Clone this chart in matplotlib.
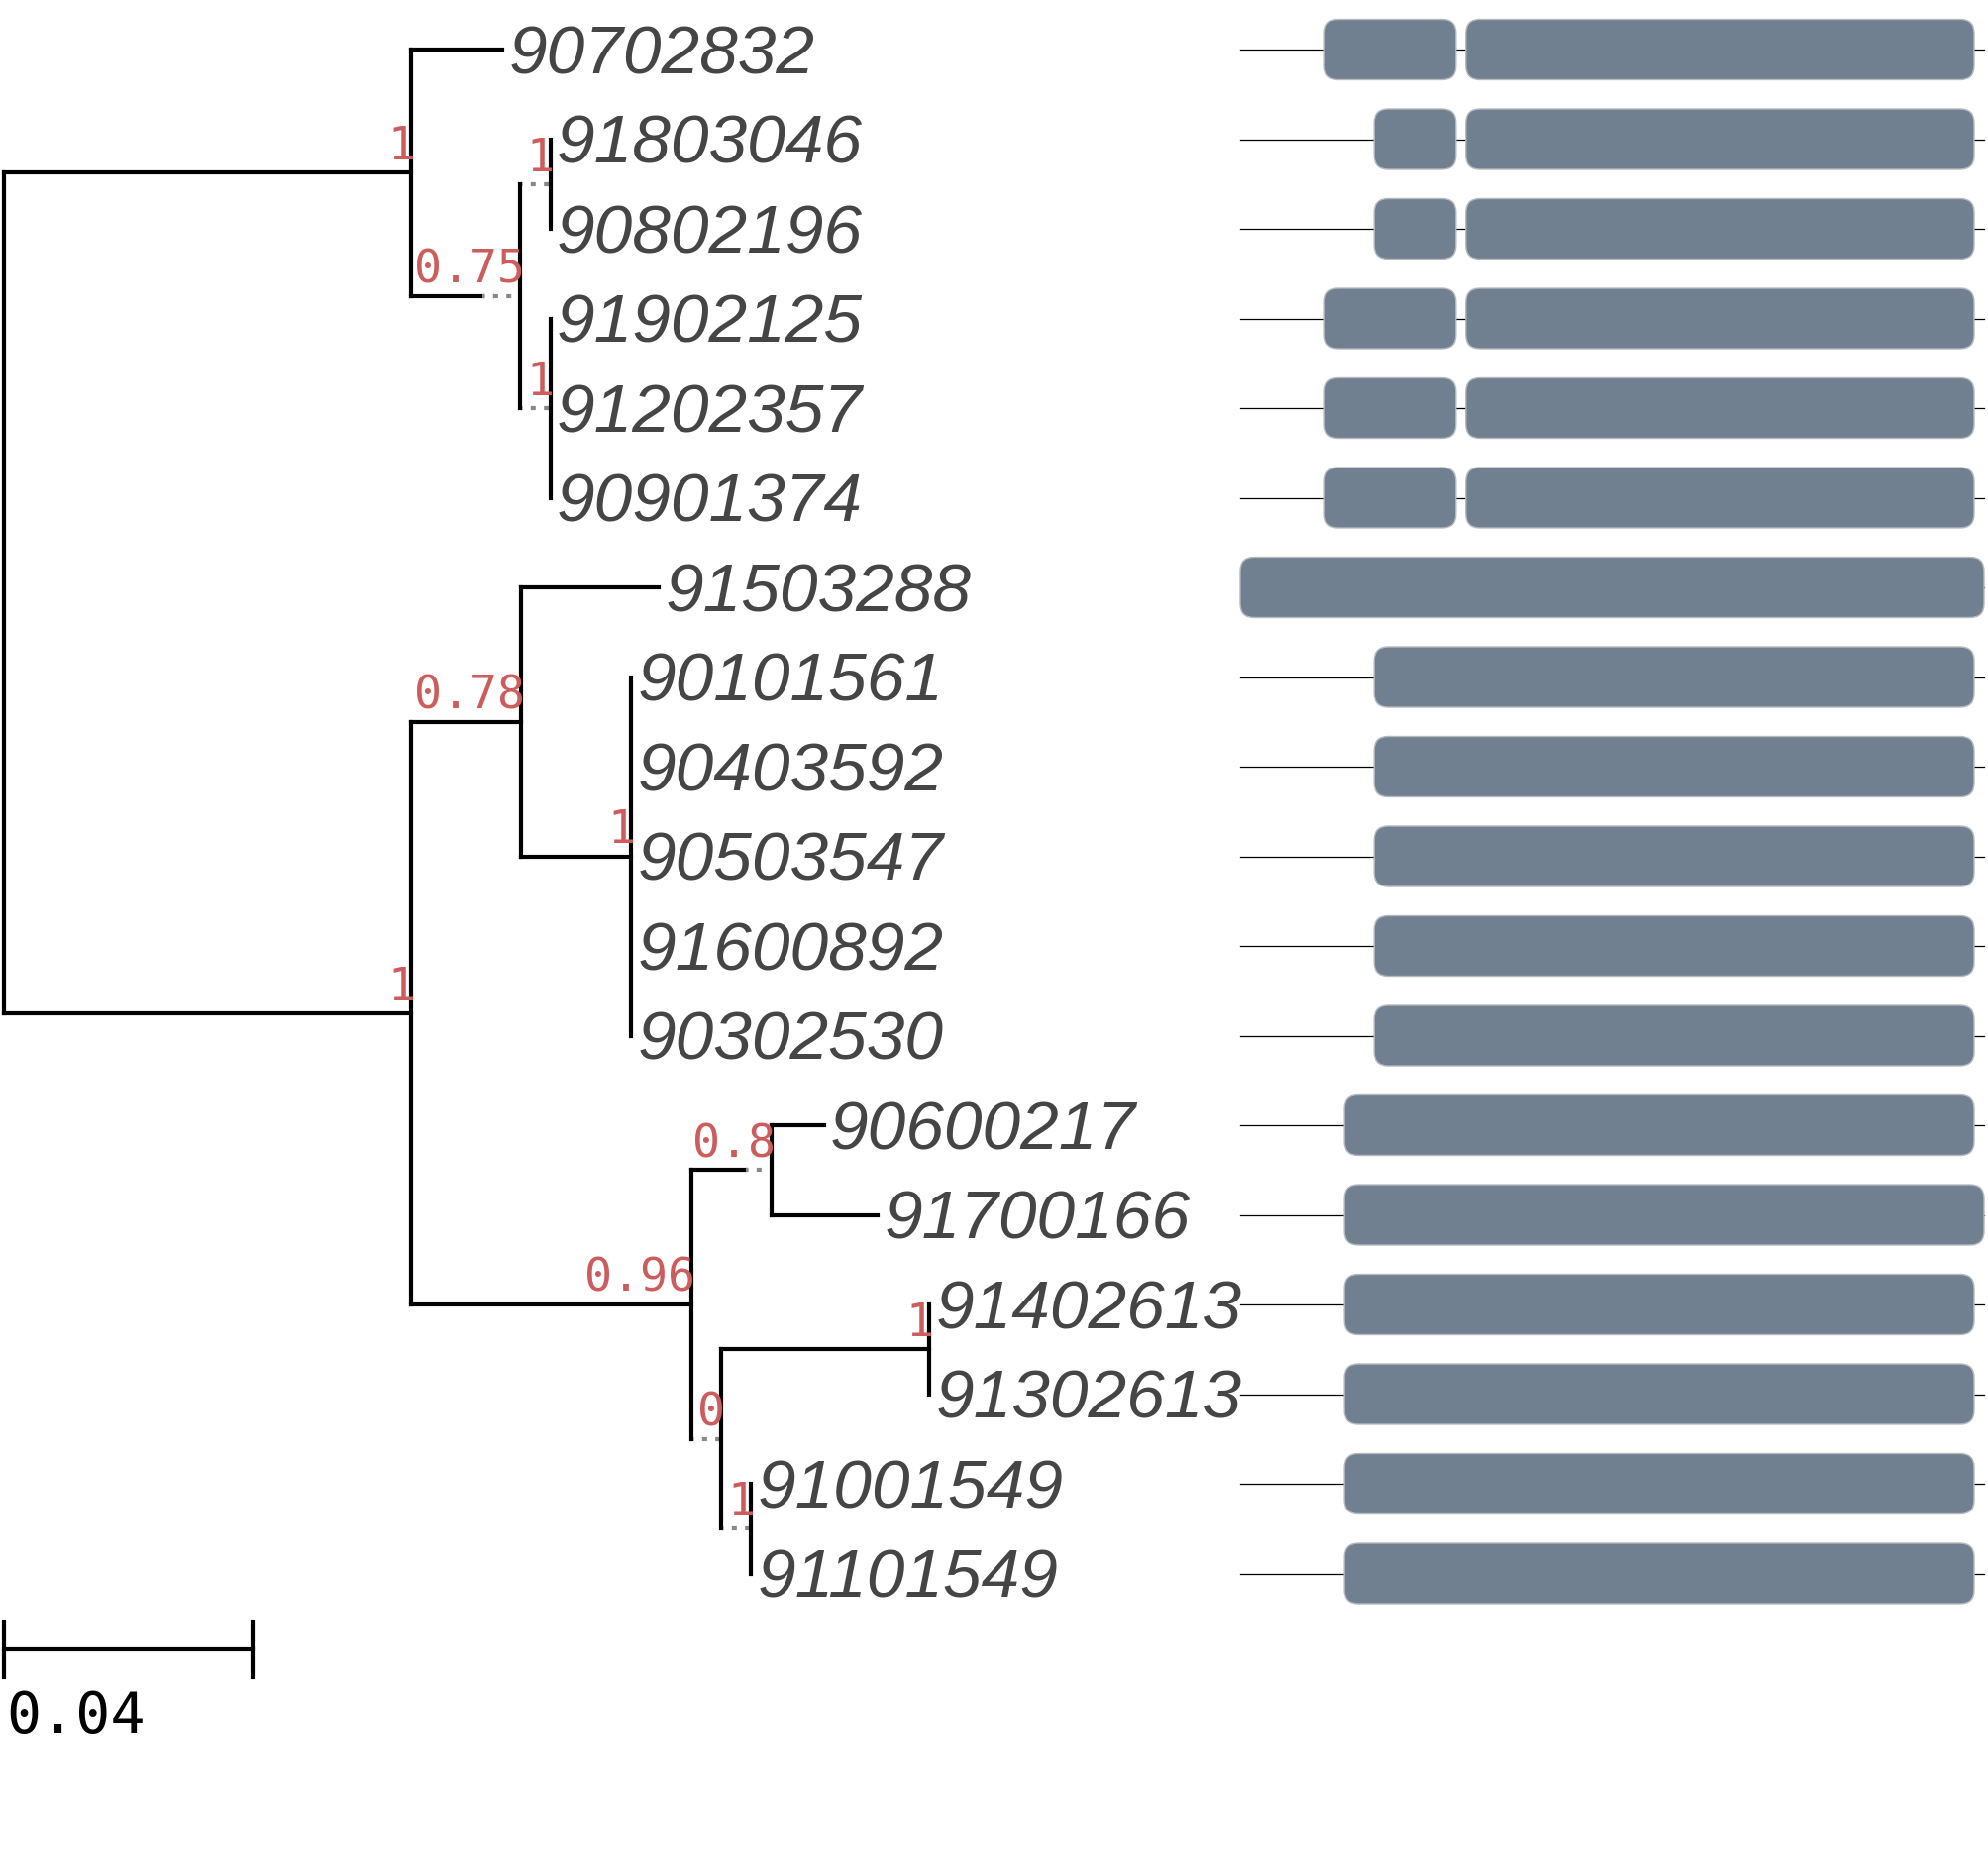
import matplotlib
matplotlib.use("Agg")
import matplotlib.pyplot as plt
from matplotlib.patches import FancyBboxPatch

# figure layout in pixels
W, H = 2007, 1892
ROW0, ROW_STEP = 50, 90.5          # y of first tip row, distance between rows
TREE_X0, TREE_PX = 4, 6275         # root position, pixels per substitution unit
GENE_X0, GENE_X1 = 1252, 2003      # gene track span in pixels

# tips, top to bottom
tips = ["90702832", "91803046", "90802196", "91902125", "91202357", "90901374",
        "91503288", "90101561", "90403592", "90503547", "91600892", "90302530",
        "90600217", "91700166", "91402613", "91302613", "91001549", "91101549"]

# tree edges: child, parent, branch length, dotted extension
edge_child = ["A", "90702832", "A2", "A3", "91803046", "90802196",
              "A4", "91902125", "91202357", "90901374",
              "B", "B1", "91503288", "B3", "90101561", "90403592", "90503547",
              "91600892", "90302530", "B2", "B4", "90600217", "91700166",
              "B5", "B6", "91402613", "91302613", "B7", "91001549", "91101549"]
edge_parent = ["root", "A", "A", "A2", "A3", "A3",
               "A2", "A4", "A4", "A4",
               "root", "B", "B1", "B1", "B3", "B3", "B3",
               "B3", "B3", "B", "B2", "B4", "B4",
               "B2", "B5", "B6", "B6", "B5", "B7", "B7"]
edge_len = [0.0655, 0.0147, 0.0115, 0.0, 0.0, 0.0,
            0.0, 0.0, 0.0, 0.0,
            0.0655, 0.0177, 0.0222, 0.0177, 0.0, 0.0, 0.0,
            0.0, 0.0, 0.0451, 0.0088, 0.0084, 0.0171,
            0.0, 0.0335, 0.0, 0.0, 0.0, 0.0, 0.0]
edge_dot = [0.0, 0.0, 0.0061, 0.0048, 0.0, 0.0,
            0.0048, 0.0, 0.0, 0.0,
            0.0, 0.0, 0.0, 0.0, 0.0, 0.0, 0.0,
            0.0, 0.0, 0.0, 0.0041, 0.0, 0.0,
            0.0048, 0.0, 0.0, 0.0, 0.0048, 0.0, 0.0]

# support values
support_node = ["A", "A2", "A3", "A4", "B", "B1", "B3", "B2", "B4", "B5", "B6", "B7"]
support_val = ["1", "0.75", "1", "1", "1", "0.78", "1", "0.96", "0.8", "0", "1", "1"]

# gene structure (domain start, end) per tip row
gene_len = 300
domains = [[(34, 87), (91, 296)], [(54, 87), (91, 296)], [(54, 87), (91, 296)],
           [(34, 87), (91, 296)], [(34, 87), (91, 296)], [(34, 87), (91, 296)],
           [(0, 300)], [(54, 296)], [(54, 296)], [(54, 296)], [(54, 296)], [(54, 296)],
           [(42, 296)], [(42, 300)], [(42, 296)], [(42, 296)], [(42, 296)], [(42, 296)]]

scale_len = 0.04

# node coordinates
x = {"root": 0.0}
solid_end = {}
children = {}
for c, p, bl, dl in zip(edge_child, edge_parent, edge_len, edge_dot):
    solid_end[c] = x[p] + bl
    x[c] = solid_end[c] + dl
    children.setdefault(p, []).append(c)

y = {t: i for i, t in enumerate(tips)}


def node_y(n):
    if n not in y:
        ys = [node_y(c) for c in children[n]]
        y[n] = (min(ys) + max(ys)) / 2
    return y[n]


node_y("root")


def px_row(py):
    return (py - ROW0) / ROW_STEP


fig = plt.figure(figsize=(W / 100, H / 100), dpi=100)
ax = fig.add_axes([0, 0, 1, 1])
ax.set_xlim(-TREE_X0 / TREE_PX, (W - TREE_X0) / TREE_PX)
ax.set_ylim(px_row(H), px_row(0))
ax.axis("off")

lw = 3.0
# horizontal branches
for c, p in zip(edge_child, edge_parent):
    if solid_end[c] > x[p]:
        ax.plot([x[p], solid_end[c]], [y[c], y[c]], color="black", lw=lw,
                solid_capstyle="projecting")
    if x[c] > solid_end[c]:
        ax.plot([solid_end[c], x[c]], [y[c], y[c]], color="#888888", lw=lw,
                linestyle=(0.6, (1.2, 2.0)), dash_capstyle="butt")

# vertical connectors
for n, kids in children.items():
    ys = [y[k] for k in kids]
    ax.plot([x[n], x[n]], [min(ys), max(ys)], color="black", lw=lw,
            solid_capstyle="projecting")

# tip labels
for t in tips:
    ax.annotate(t, (x[t], y[t]), xytext=(4.5, -17.5), textcoords="offset points",
                ha="left", va="baseline", fontsize=50, style="italic",
                family="Liberation Sans", color="#454545")

# support labels
for n, s in zip(support_node, support_val):
    ax.annotate(s, (x[n], y[n]), xytext=(3.0, 9.5), textcoords="offset points",
                ha="right", va="baseline", fontsize=33.5,
                family="DejaVu Sans Mono", color="#CD5C5C")

# scale bar
bar_y = px_row(1665)
tick_h = 27.5 / ROW_STEP
ax.plot([0, scale_len], [bar_y, bar_y], color="black", lw=lw)
for bx in (0, scale_len):
    ax.plot([bx, bx], [bar_y - tick_h, bar_y + tick_h], color="black", lw=lw)
ax.text(0.0003, px_row(1750), f"{scale_len:g}", ha="left", va="baseline",
        fontsize=42, family="DejaVu Sans Mono", color="black")

# gene track
gx = fig.add_axes([0, 0, 1, 1], label="genes")
gpx = (GENE_X1 - GENE_X0) / gene_len
gx.set_xlim(-GENE_X0 / gpx, (W - GENE_X0) / gpx)
gx.set_ylim(px_row(H), px_row(0))
gx.axis("off")
gx.patch.set_alpha(0)

box_h = 61 / ROW_STEP
aspect = (1 / ROW_STEP) / (1 / gpx)
for i, doms in enumerate(domains):
    gx.plot([0, gene_len], [i, i], color="black", lw=0.9, zorder=1)
    for s, e in doms:
        gx.add_patch(FancyBboxPatch(
            (s, i - box_h / 2), e - s, box_h,
            boxstyle="round,pad=0,rounding_size=5.6", mutation_aspect=aspect,
            facecolor="#708090", edgecolor="#b4b9be", lw=1.0, zorder=2))

fig.savefig("out.png", dpi=100)
